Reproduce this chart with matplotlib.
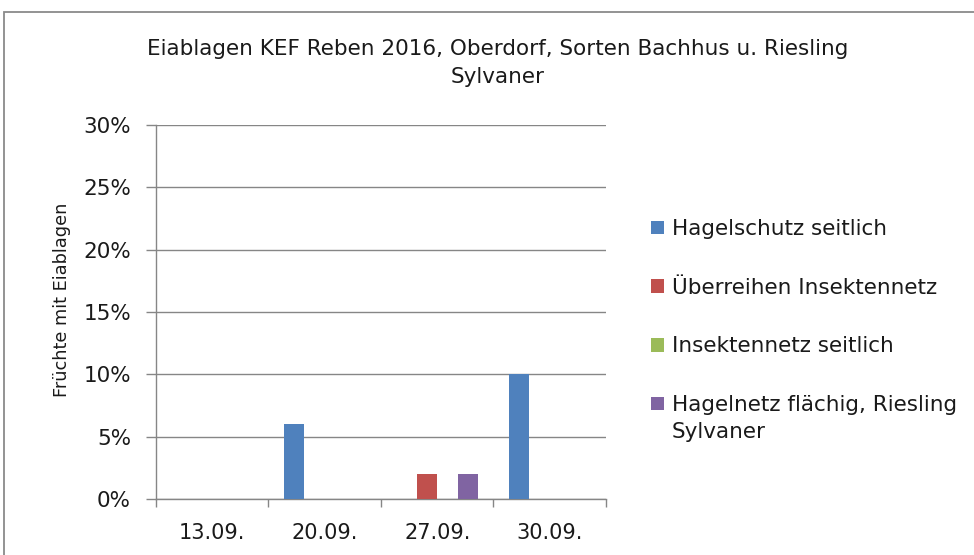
import numpy as np
import matplotlib.pyplot as plt
from matplotlib.patches import Rectangle

plt.rcParams['font.family'] = ['DejaVu Sans']

categories = ['13.09.', '20.09.', '27.09.', '30.09.']
series_names = [
    'Hagelschutz seitlich',
    'Überreihen Insektennetz',
    'Insektennetz seitlich',
    'Hagelnetz flächig, Riesling\nSylvaner',
]
hagelschutz = [0, 6, 0, 10]
ueberreihen = [0, 0, 2, 0]
insektennetz = [0, 0, 0, 0]
hagelnetz = [0, 0, 2, 0]
values = [hagelschutz, ueberreihen, insektennetz, hagelnetz]

colors = ["#4F81BD", "#C0504D", "#9BBB59", "#8064A2"]
grid_col = "#868686"
text_col = "#1a1a1a"

fig = plt.figure(figsize=(9.74, 5.55), dpi=100)
ax = fig.add_axes([156 / 974, 0.101, 0.462, 0.674])

# chart frame
fig.patches.append(Rectangle((4 / 974, -0.5), 1.2, 1.5 - 12 / 555,
                             transform=fig.transFigure, fill=False,
                             edgecolor="#8a8a8a", linewidth=1.3))

x = np.arange(len(categories))
w = 0.182
handles = []
for i, (vals, col) in enumerate(zip(values, colors)):
    b = ax.bar(x + (i - 1.5) * w, vals, width=w, color=col, edgecolor="none",
               zorder=3)
    handles.append(b)

ax.set_xlim(-0.5, len(categories) - 0.5)
ax.set_ylim(0, 30)
ax.set_yticks(range(0, 31, 5))
ax.set_yticklabels([f"{v}%" for v in range(0, 31, 5)], fontsize=15.5,
                   color=text_col)
ax.set_xticks(x)
ax.set_xticklabels(categories, fontsize=15, color=text_col)
ax.set_xticks(np.arange(-0.5, len(categories)), minor=True)
ax.tick_params(axis='x', which='major', length=0, pad=17)
ax.tick_params(axis='x', which='minor', length=6, color=grid_col, width=1)
ax.tick_params(axis='y', length=7.5, color=grid_col, width=1, pad=10.5)

ax.grid(axis='y', color=grid_col, linewidth=1, zorder=0)
for s in ['top', 'right']:
    ax.spines[s].set_visible(False)
for s in ['left', 'bottom']:
    ax.spines[s].set_color(grid_col)
    ax.spines[s].set_linewidth(1)

ax.set_ylabel("Früchte mit Eiablagen", fontsize=12.8, color=text_col)
ax.yaxis.set_label_coords(-0.189, 0.532)

fig.text(498 / 974, 1 - 63 / 555,
         "Eiablagen KEF Reben 2016, Oberdorf, Sorten Bachhus u. Riesling\nSylvaner",
         ha='center', va='center', fontsize=15.5, color=text_col,
         linespacing=1.45)

# legend: wrapped last label continues under its first line
first_lines = [n.split('\n')[0] for n in series_names]
fig.legend(handles, first_lines, loc='upper left',
           bbox_to_anchor=(651 / 974, 1 - 219 / 555), frameon=False,
           fontsize=15.5, handlelength=0.6, handleheight=0.6,
           handletextpad=0.37, labelspacing=1.8, borderaxespad=0,
           borderpad=0, labelcolor=text_col)
fig.text(672 / 974, 1 - 432 / 555, series_names[3].split('\n')[1],
         ha='left', va='center', fontsize=15.5, color=text_col)

fig.savefig("out.png", dpi=100)
